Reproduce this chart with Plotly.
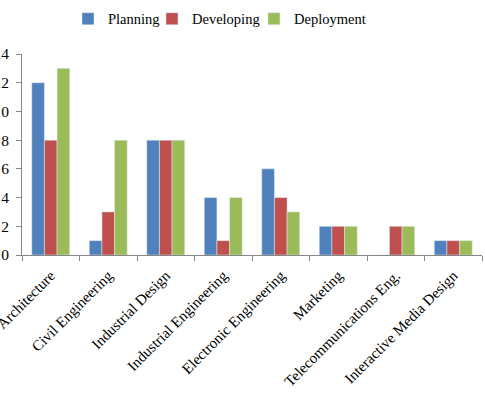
import plotly.graph_objects as go

categories = ["Architecture", "Civil Engineering", "Industrial Design", "Industrial Engineering",
              "Electronic Engineering", "Marketing", "Telecommunications Eng.", "Interactive Media Design"]
planning = [12, 1, 8, 4, 6, 2, 0, 1]
developing = [8, 3, 8, 1, 4, 2, 2, 1]
deployment = [13, 8, 8, 4, 3, 2, 2, 1]
y_ticks = [0, 2, 4, 6, 8, 10, 12, 14]

font = "Liberation Serif, Times New Roman, serif"
fig = go.Figure()
fig.add_bar(x=categories, y=planning, name="Planning", marker_color="#4F81BD",
            legend="legend", showlegend=True)
fig.add_bar(x=categories, y=developing, name="Developing", marker_color="#C0504D",
            legend="legend2", showlegend=True)
fig.add_bar(x=categories, y=deployment, name="Deployment", marker_color="#9BBB59",
            legend="legend3", showlegend=True)

leg = dict(orientation="h", xanchor="left", y=1.175, yanchor="middle",
           font=dict(size=14.5), itemwidth=30, bgcolor="rgba(0,0,0,0)")

fig.update_layout(
    width=485, height=399,
    margin=dict(l=22, r=3, t=46, b=144),
    paper_bgcolor="white", plot_bgcolor="white",
    showlegend=True,
    barmode="group", bargap=0.34, bargroupgap=0,
    font=dict(family=font, size=14.5, color="black"),
    legend=dict(leg, x=0.1),
    legend2=dict(leg, x=0.2826),
    legend3=dict(leg, x=0.5043),
    xaxis=dict(showline=True, linecolor="#868686", linewidth=1, ticks="outside",
               tickson="boundaries", ticklen=5, tickcolor="#868686", tickangle=-45,
               showgrid=False, tickfont=dict(size=15), automargin=False,
               ticklabelstandoff=5),
    yaxis=dict(range=[0, 14], tickvals=y_ticks, showline=True, linecolor="#868686",
               linewidth=1, ticks="outside", ticklen=5, tickcolor="#868686",
               showgrid=False, zeroline=False, tickfont=dict(size=15.5), automargin=False,
               ticklabelstandoff=4),
)
fig.write_html("out.html")
